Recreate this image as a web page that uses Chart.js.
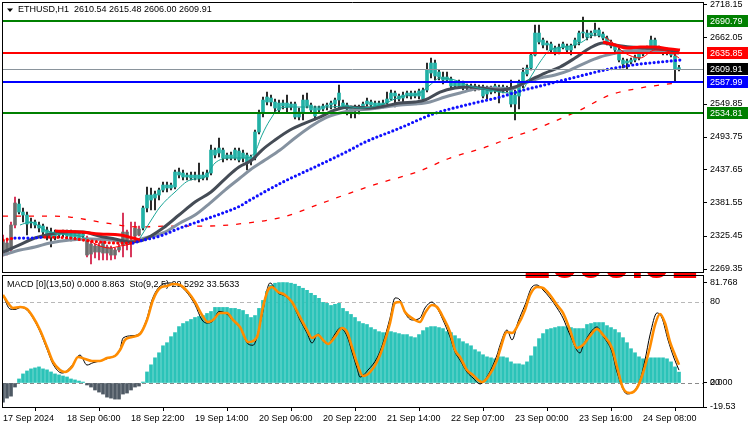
<!DOCTYPE html>
<html><head><meta charset="utf-8">
<script src="https://cdn.jsdelivr.net/npm/chart.js@4.4.1/dist/chart.umd.min.js"></script>
<style>
html,body{margin:0;padding:0;background:#fff;}
#wrap{position:relative;width:750px;height:430px;overflow:hidden;background:#fff;}
#main{position:absolute;left:0;top:0;width:750px;height:273px;}
#sub{position:absolute;left:0;top:273px;width:750px;height:157px;}
</style></head><body>
<div id="wrap"><canvas id="main" width="750" height="273"></canvas><canvas id="sub" width="750" height="157"></canvas></div>
<script>
// ---------------- DATA ----------------
const headerText = 'ETHUSD,H1  2610.54 2615.48 2606.00 2609.91';
const subLegend = 'MACD [0](13,50) 0.000 8.863  Sto(9,2,5) 29.5292 33.5633';
const bigPriceText = '2609.91';

const timeIdx = [0,16,32,48,64,80,96,112,128,144,160];
const timeLabels = ['17 Sep 2024','18 Sep 06:00','18 Sep 22:00','19 Sep 14:00','20 Sep 06:00','20 Sep 22:00','21 Sep 14:00','22 Sep 07:00','23 Sep 00:00','23 Sep 16:00','24 Sep 08:00'];

const priceTicks = [2718.15,2662.05,2549.85,2493.75,2437.65,2381.55,2325.45,2269.35];
const levelValues = [2690.79,2635.85,2609.91,2587.99,2534.81];
const macdTickValues = [81.768,0,-19.53];
const macdTickLabels = ['81.768','0.000','-19.53'];
const stochLevels = [80,20];

const openP = [2318.6,2298.2,2301.6,2344.1,2379.8,2366.2,2361.1,2347.5,2349.2,2344.1,
2342.4,2335.6,2332.2,2325.4,2332.2,2328.8,2332.2,2332.2,2323.7,2330.5,
2325.4,2322.0,2294.8,2308.4,2298.2,2313.5,2296.5,2305.0,2293.1,2301.6,
2310.1,2332.2,2311.8,2325.4,2327.1,2339.0,2373.0,2395.1,2390.0,2395.1,
2403.6,2412.1,2407.0,2408.7,2434.2,2432.5,2425.7,2429.1,2424.0,2429.1,
2424.0,2425.7,2432.5,2471.6,2466.5,2471.6,2458.0,2463.1,2458.0,2469.9,
2458.0,2463.1,2454.6,2458.0,2502.2,2534.5,2553.2,2560.0,2553.2,2551.5,
2546.4,2551.5,2549.8,2549.8,2527.7,2536.2,2556.6,2548.1,2543.0,2539.6,
2541.3,2546.4,2548.1,2549.8,2556.6,2551.5,2548.1,2543.0,2544.7,2544.7,
2543.0,2549.8,2553.2,2551.5,2551.5,2546.4,2551.5,2558.3,2568.5,2563.4,
2560.0,2565.1,2568.5,2563.4,2563.4,2558.3,2573.6,2602.5,2619.5,2604.2,
2595.7,2590.6,2592.3,2585.5,2580.4,2585.5,2580.4,2577.0,2580.4,2577.0,
2578.7,2566.8,2577.0,2571.9,2578.7,2571.9,2577.0,2573.6,2549.8,2563.4,
2583.8,2600.8,2611.0,2633.1,2670.5,2658.6,2650.1,2651.8,2645.0,2638.2,
2646.7,2648.4,2641.6,2650.1,2655.2,2670.5,2670.5,2667.1,2670.5,2675.6,
2668.8,2662.0,2655.2,2648.4,2641.6,2624.6,2619.5,2621.2,2624.6,2628.0,
2634.8,2641.6,2641.6,2658.6,2645.0,2641.6,2638.2,2639.9,2631.4,2610.54];
const highP = [2327.1,2322.0,2349.2,2391.7,2388.3,2373.0,2366.2,2356.0,2352.6,2349.2,
2345.8,2340.7,2339.0,2335.6,2333.9,2335.6,2335.6,2335.6,2333.9,2332.2,
2332.2,2325.4,2315.2,2311.8,2313.5,2318.6,2310.1,2308.4,2305.0,2311.8,
2364.5,2335.6,2349.2,2349.2,2342.4,2376.4,2408.7,2407.0,2401.9,2407.0,
2417.2,2417.2,2415.5,2437.6,2441.0,2437.6,2432.5,2434.2,2434.2,2449.5,
2434.2,2437.6,2480.1,2475.0,2492.0,2475.0,2466.5,2468.2,2475.0,2475.0,
2471.6,2466.5,2463.1,2505.6,2539.6,2561.7,2570.2,2565.1,2558.3,2556.6,
2556.6,2565.1,2553.2,2553.2,2543.0,2565.1,2568.5,2551.5,2546.4,2546.4,
2549.8,2551.5,2554.9,2560.0,2582.1,2556.6,2551.5,2546.4,2548.1,2548.1,
2553.2,2560.0,2556.6,2554.9,2554.9,2556.6,2570.2,2573.6,2571.9,2566.8,
2570.2,2571.9,2571.9,2571.9,2575.3,2577.0,2619.5,2628.0,2624.6,2607.6,
2604.2,2604.2,2595.7,2588.9,2590.6,2588.9,2583.8,2583.8,2583.8,2582.1,
2582.1,2580.4,2580.4,2583.8,2582.1,2582.1,2580.4,2590.6,2573.6,2590.6,
2611.0,2616.1,2636.5,2684.1,2684.1,2662.0,2656.9,2655.2,2648.4,2651.8,
2655.2,2651.8,2651.8,2662.0,2673.9,2697.7,2675.6,2673.9,2687.5,2679.0,
2672.2,2665.4,2658.6,2651.8,2645.0,2628.0,2626.3,2628.0,2633.1,2638.2,
2645.0,2648.4,2665.4,2662.0,2648.4,2645.0,2645.0,2643.3,2636.5,2615.48];
const lowP = [2291.4,2293.1,2298.2,2339.0,2362.8,2349.2,2327.1,2339.0,2339.0,2332.2,
2322.0,2318.6,2306.7,2318.6,2322.0,2323.7,2318.6,2316.9,2322.0,2318.6,
2322.0,2289.7,2277.8,2288.0,2284.6,2284.6,2284.6,2284.6,2286.3,2298.2,
2289.7,2301.6,2289.7,2322.0,2325.4,2335.6,2366.2,2369.6,2369.6,2386.6,
2400.2,2400.2,2403.6,2405.3,2424.0,2420.6,2420.6,2420.6,2420.6,2417.2,
2420.6,2420.6,2429.1,2458.0,2459.7,2451.2,2454.6,2454.6,2454.6,2451.2,
2451.2,2437.6,2446.1,2454.6,2498.8,2527.7,2548.1,2546.4,2534.5,2536.2,
2541.3,2536.2,2539.6,2524.3,2522.6,2522.6,2543.0,2534.5,2522.6,2534.5,
2537.9,2539.6,2541.3,2543.0,2543.0,2543.0,2531.1,2526.0,2526.0,2532.8,
2539.6,2546.4,2543.0,2541.3,2543.0,2543.0,2549.8,2556.6,2544.7,2554.9,
2553.2,2560.0,2558.3,2560.0,2558.3,2554.9,2570.2,2594.0,2590.6,2590.6,
2583.8,2587.2,2577.0,2577.0,2577.0,2573.6,2573.6,2573.6,2571.9,2573.6,
2560.0,2558.3,2566.8,2568.5,2551.5,2568.5,2570.2,2544.7,2522.6,2541.3,
2577.0,2597.4,2607.6,2631.4,2651.8,2645.0,2641.6,2636.5,2633.1,2634.8,
2643.3,2636.5,2633.1,2645.0,2650.1,2662.0,2658.6,2662.0,2665.4,2663.7,
2658.6,2650.1,2645.0,2638.2,2621.2,2611.0,2609.3,2617.8,2621.2,2624.6,
2631.4,2636.5,2638.2,2641.6,2636.5,2633.1,2633.1,2629.7,2587.2,2606.00];
const closeP = [2298.2,2313.5,2344.1,2381.5,2366.2,2361.1,2345.8,2349.2,2344.1,2339.0,
2332.2,2327.1,2323.7,2332.2,2327.1,2333.9,2325.4,2322.0,2330.5,2322.0,
2328.8,2293.1,2311.8,2298.2,2308.4,2296.5,2306.7,2293.1,2301.6,2306.7,
2332.2,2311.8,2318.6,2339.0,2337.3,2373.0,2395.1,2386.6,2396.8,2403.6,
2412.1,2407.0,2412.1,2434.2,2429.1,2425.7,2429.1,2424.0,2429.1,2424.0,
2429.1,2432.5,2471.6,2463.1,2475.0,2458.0,2463.1,2458.0,2471.6,2454.6,
2466.5,2451.2,2459.7,2502.2,2534.5,2556.6,2561.7,2553.2,2543.0,2539.6,
2551.5,2544.7,2544.7,2527.7,2536.2,2556.6,2546.4,2539.6,2529.4,2543.0,
2546.4,2548.1,2551.5,2556.6,2568.5,2546.4,2541.3,2539.6,2539.6,2539.6,
2549.8,2554.9,2548.1,2544.7,2546.4,2551.5,2558.3,2568.5,2563.4,2558.3,
2565.1,2568.5,2563.4,2568.5,2571.9,2573.6,2607.6,2619.5,2597.4,2595.7,
2590.6,2595.7,2580.4,2580.4,2587.2,2577.0,2577.0,2580.4,2575.3,2578.7,
2563.4,2577.0,2570.2,2580.4,2570.2,2578.7,2573.6,2549.8,2565.1,2587.2,
2604.2,2611.0,2633.1,2670.5,2655.2,2650.1,2653.5,2641.6,2638.2,2646.7,
2651.8,2641.6,2648.4,2658.6,2670.5,2672.2,2663.7,2670.5,2675.6,2667.1,
2662.0,2655.2,2648.4,2641.6,2624.6,2617.8,2622.9,2624.6,2629.7,2634.8,
2641.6,2643.3,2658.6,2645.0,2639.9,2636.5,2641.6,2633.1,2609.3,2609.91];

// moving averages (sampled at bar positions)
const darkIdx = [0,4,8,12,16,20,24,28,32,35,40,44,48,52,56,59,62.25,64.75,68,71.75,75.5,79.25,83,86.75,91.75,95.5,99.25,103,105.5,109.25,113,116.75,119.25,124.25,128,131.75,135.5,139.25,143,146.75,150,153,156.75,160.5,164.25,168,169];
const darkMA = [2298.2,2310.1,2322.0,2328.8,2332.2,2332.2,2325.4,2320.3,2315.2,2318.6,2339.0,2361.1,2383.2,2400.2,2425.7,2442.7,2454.6,2471.6,2488.6,2505.6,2517.5,2527.7,2539.6,2544.7,2543.0,2546.4,2551.5,2553.2,2556.6,2570.2,2577.0,2578.7,2577.0,2573.6,2578.7,2590.6,2602.5,2612.7,2628.0,2645.0,2653.5,2650.1,2646.7,2645.0,2643.3,2639.9,2638.2];
const lightIdx = [0,4.25,8,11.75,16.75,21.75,26.75,31.75,35.5,40.5,44.25,48,51.75,55.5,59.25,61.75,65.5,69.25,73,76.75,80.5,84.25,88,91.75,95.5,99.25,103,106.75,110.5,114.25,118,121.75,126.75,130.5,134.25,138,141.75,145.5,149.25,153,157,161,165,169];
const lightMA = [2293.1,2301.6,2306.7,2313.5,2318.6,2320.3,2318.6,2315.2,2322.0,2332.2,2347.5,2361.1,2381.5,2403.6,2424.0,2437.6,2454.6,2471.6,2492.0,2510.7,2526.0,2534.5,2539.6,2541.3,2544.7,2548.1,2549.8,2553.2,2561.7,2568.5,2575.3,2577.0,2575.3,2585.5,2594.0,2599.1,2607.6,2619.5,2629.7,2636.0,2641.0,2641.0,2640.0,2636.0];
const fastUpIdxA = [4.25,6.75,10.5,14.25,19.25,21.25];
const fastUpA = [2344.1,2349.2,2335.6,2328.8,2325.4,2318.6];
const fastDnIdxA = [21.25,24.25,26.75,29.25,31.75,34.25];
const fastDnA = [2318.6,2308.4,2305.0,2308.4,2311.8,2322.0];
const fastUpIdxB = [34.25,36.75,39.25,43,46.75,50.5,53,56.75,60.5,63,64.75,66.75,69.25,73,76.75,81.75,85.5,89.25,94.25,99.25,104.25,106.75,109.25,113,116.75,121.75,126.75,129.25,131.75,134.25,136.75,140.5,144.25,148,150.5];
const fastUpB = [2322.0,2349.2,2374.7,2400.2,2420.6,2425.7,2449.5,2458.0,2458.0,2468.2,2497.1,2522.6,2543.0,2544.7,2544.7,2544.7,2546.4,2543.0,2548.1,2561.7,2568.5,2582.1,2594.0,2590.6,2580.4,2573.6,2568.5,2570.2,2594.0,2621.2,2641.6,2646.7,2653.5,2667.1,2663.7];
const fastDnIdxB = [150.5,152.25,155.5,159.25,163,166.75,169];
const fastDnB = [2663.7,2655.2,2636.5,2628.0,2641.6,2638.2,2628.0];
const trendIdxA = [13,19.25,24.25,29.25,32.5,34.25];
const trendA = [2333.9,2332.2,2328.8,2327.1,2322.0,2318.6];
const trendIdxB = [150,153,156,159.25,163,166.75,169.25];
const trendB = [2655.2,2650.1,2645.0,2646.7,2646.7,2643.3,2641.6];
const dotDnIdxA = [0,3];
const dotDnA = [2318.6,2322.0];
const dotUpIdxA = [3,6.75,10.5];
const dotUpA = [2322.0,2322.0,2323.7];
const dotDnIdxB = [10.5,16.75,20,24.25,28.5,32.5];
const dotDnB = [2323.7,2322.0,2318.6,2315.2,2313.5,2313.5];
const dotUpIdxB = [32.5,34.25,39.25,44.25,49.25,54.25,59.25,61.75,70,78.5,86.75,90,99.25,107.5,116.75,124.25,129.25,134.25,139.25,144.25,149.25,154.25,159.25,164.25,169.25];
const dotUpB = [2313.5,2316.9,2325.4,2339.0,2350.9,2362.8,2376.4,2386.6,2417.2,2444.4,2471.6,2483.5,2509.0,2532.8,2549.8,2561.7,2571.9,2580.4,2588.9,2597.4,2605.9,2612.7,2617.8,2621.2,2624.6];
const slowIdx = [0,9.25,16.75,24.25,34.25,41.75,51,61,70,78.5,86.75,95,103.5,111.75,120,126.75,132.5,144.25,151.75,159.25,164.25,168.5];
const slowMA = [2359.4,2359.4,2357.7,2349.2,2340.7,2342.4,2342.4,2347.5,2357.7,2378.1,2398.5,2417.2,2434.2,2458.0,2475.0,2492.0,2505.6,2539.6,2565.1,2577.0,2582.1,2585.5];

// MACD histogram, one per bar
const macdHist = [-15.6,-12.3,-10.7,-3.3,3.3,7.4,9.8,11.5,12.3,13.1,
11.5,10.7,9.0,7.4,6.6,5.7,4.9,3.3,2.5,1.6,
0.8,-1.6,-3.3,-5.7,-7.4,-9.0,-11.5,-12.3,-13.1,-13.1,
-9.0,-8.2,-5.7,-3.3,-2.5,0.8,9.0,14.8,20.5,24.6,
30.3,32.8,37.7,41.0,45.9,48.4,50.0,51.7,53.3,54.1,
54.9,56.6,58.2,61.5,61.5,61.5,61.5,60.7,60.7,59.9,
59.0,55.8,53.3,54.9,60.7,67.2,74.6,79.5,81.2,81.7,
81.768,81.7,81.2,80.4,78.7,77.1,75.4,73.0,71.3,68.9,
65.6,64.8,63.1,64.0,64.8,60.7,58.2,55.8,53.3,50.0,
48.4,47.6,45.1,43.5,41.8,41.0,41.0,41.8,41.0,40.2,
39.4,39.4,37.7,36.9,39.4,42.6,45.1,45.9,45.9,45.1,
44.3,41.8,41.0,38.5,36.1,33.6,32.0,30.3,27.1,25.4,
23.0,21.3,20.5,19.7,21.3,21.3,20.5,17.2,15.6,15.6,
14.8,17.2,22.1,29.5,36.1,40.2,43.5,44.3,45.1,45.9,
45.9,45.9,45.1,44.3,44.3,44.3,47.6,48.4,49.2,49.2,
49.2,46.7,45.1,43.5,41.0,36.9,32.8,27.9,24.6,21.3,
19.7,19.7,20.5,20.5,20.5,20.5,19.7,17.2,13.1,8.863];

// Stochastic signal (orange) and main (black)
const sigIdx = [0,1.25,2.5,4.25,6,7.5,9.25,11,12.5,14.25,15.5,17.25,18.75,20.5,22.25,24.25,26,28,29.25,30.5,32.25,34.25,36,37.5,39.25,41,42.5,44.25,46.25,48,49.75,51.25,52.5,54.25,56,57.5,59.25,61.25,63.5,65,66.25,67.25,68.75,70.5,72.25,74.25,76,77.25,78.75,80,81.25,83,84.75,86,87.25,88.5,90,91.75,93.5,95,96.75,98,99.25,100.5,102.25,104.25,105.5,107.25,108.5,110,111.75,113,114.25,116,117.5,119.75,121.25,123.5,124.25,126,127.25,128.75,130.5,131.75,133.5,135,136.75,138.5,140,141.75,143.5,145,146.75,148.5,150,152.25,153.5,155,156.75,158.5,160,161.75,163,164.25,165.5,166.75,168,169];
const stochSignal = [85.2,79.3,75.6,76.3,74.8,68.9,59.3,46.7,35.6,29.6,28.1,31.9,39.3,37.8,36.3,36.3,38.5,40.0,44.4,51.9,54.1,56.3,66.7,81.5,90.4,91.9,93.3,92.6,87.4,80.0,70.4,65.2,66.7,71.9,71.9,66.7,61.5,50.4,54.1,76.3,88.9,91.1,87.4,85.2,80.0,68.9,59.3,53.3,55.6,51.9,48.9,54.1,60.7,57.8,46.7,34.8,25.2,28.1,35.6,46.7,64.4,79.3,80.0,72.6,68.1,65.2,71.9,77.8,76.3,68.9,57.8,44.4,39.3,29.6,25.9,20.7,24.4,37.0,44.4,57.8,57.0,63.0,74.1,85.2,91.1,90.4,85.2,77.8,71.9,59.3,45.9,48.1,54.8,60.0,55.6,45.9,31.9,16.3,12.6,16.3,27.4,46.7,63.0,71.1,64.4,50.4,40.7,33.56];
const mainIdx = [0,1.75,3,4.5,6,7.5,9.25,11,12.5,14.75,15.5,17.25,19.25,21,22.5,24.25,26,28,29.25,30,32.25,34.25,36,37.25,39,41.75,44.25,46.25,48,49.75,51,52.5,54,56,57.5,59.25,61.25,62.5,64.75,66,66.75,68.75,70.5,72.25,74.25,76,77.25,78.75,80,81.25,83,84.25,86,87.25,88.5,89.25,91.25,93.5,95,96.75,98,99.25,100.5,102.25,104.25,105.5,107.25,108.5,110,111.75,113,114.25,116,117.5,119.25,121.25,123.5,124.25,126,127.25,128.75,130.5,132.25,133.5,135,136.75,138.5,140,141.75,144.25,145,146.75,148.5,150,152.25,153.5,156,157.5,159.25,160.5,161.75,163.5,164.75,166.25,167.75,169];
const stochMain = [85.2,74.8,74.5,76,74,68,58,45,34,27.4,28,33,40.7,33.3,35,36.3,38,40.5,45,53.3,55,57,68,81.5,91,94.1,92,86,78,66.7,64.4,66,73,71,66,61,49,48,70,89,94.1,86.7,84.4,79.3,66.7,57,49.6,56.3,51,49,56.3,60.7,54.8,43,31,24.4,29.6,38.5,49.6,68.1,83,81.5,71.9,66.7,68.1,75.6,80,75.6,66.7,54.1,43,37,28.1,23.7,19.3,25.9,40.7,48,59.3,51.9,65.2,77.8,91.1,92.6,88.9,83,75.6,68.1,55.6,42.2,47.4,57,61.5,54.8,43,28.1,11.9,13.3,22.2,37,55.6,71.9,68.1,51.9,38.5,29.53];

// ---------------- STYLE ----------------
const FONT = "'Liberation Sans', Arial, sans-serif";
Chart.defaults.font.family = FONT;
Chart.defaults.font.size = 9;
Chart.defaults.color = '#000';
const TEAL = '#22b1a6', GRAYC = '#6d6d6d', WICK = '#000000', GRAYWICK = '#d0103c';
const HIST_UP = '#2bc3b8', HIST_DN = '#4e5964';
const grayRanges = [[0,3],[21,34]];
const isGray = i => grayRanges.some(r => i >= r[0] && i <= r[1]);
const levelLine = ['#008000','#ff0000','#8a949c','#0000ff','#008000'];
const levelWidth = [2,2,1,2,2];
const levelBg = ['#008000','#ff0000','#000000','#0000ff','#008000'];
const X_MIN = -0.25, X_MAX = 175;

const pts = (xs, ys) => xs.map((x, k) => ({x: x, y: ys[k]}));
function lineDs(xs, ys, color, width, order, extra) {
  return Object.assign({type: 'line', data: pts(xs, ys), borderColor: color, borderWidth: width,
    pointRadius: 0, fill: false, cubicInterpolationMode: 'monotone', order: order}, extra || {});
}
const dotted = {borderDash: [0, 4.3], borderCapStyle: 'round'};

const barIdx = openP.map((_, i) => i);

// ---------------- MAIN CHART ----------------
const mainDecor = {
  id: 'mainDecor',
  afterDatasetsDraw(chart) {
    const {ctx, chartArea: a} = chart; const y = chart.scales.y;
    ctx.save();
    ctx.beginPath(); ctx.rect(a.left, a.top, a.right - a.left, a.bottom - a.top); ctx.clip();
    levelValues.forEach((v, k) => {
      let py = Math.round(y.getPixelForValue(v));
      if (levelWidth[k] % 2) py += 0.5;
      ctx.strokeStyle = levelLine[k]; ctx.lineWidth = levelWidth[k];
      ctx.beginPath(); ctx.moveTo(a.left, py); ctx.lineTo(a.right, py); ctx.stroke();
    });
    ctx.restore();
  },
  afterDraw(chart) {
    const {ctx, chartArea: a} = chart; const y = chart.scales.y;
    ctx.save();
    ctx.strokeStyle = '#000'; ctx.lineWidth = 1;
    ctx.beginPath();
    ctx.moveTo(a.left + 0.5, a.top + 0.5); ctx.lineTo(a.left + 0.5, a.bottom + 0.5);
    ctx.moveTo(a.left, a.top + 0.5); ctx.lineTo(a.right, a.top + 0.5);
    ctx.moveTo(a.left, a.bottom + 0.5); ctx.lineTo(a.right + 1, a.bottom + 0.5);
    ctx.stroke();
    ctx.font = '9px ' + FONT; ctx.textBaseline = 'middle'; ctx.textAlign = 'left';
    levelValues.forEach((v, k) => {
      const py = Math.round(y.getPixelForValue(v));
      ctx.fillStyle = levelBg[k];
      ctx.fillRect(a.right + 4, py - 6, 41, 12);
      ctx.fillStyle = '#fff';
      ctx.fillText(v.toFixed(2), a.right + 7, py + 0.5);
    });
    // header
    ctx.fillStyle = '#000';
    ctx.beginPath(); ctx.moveTo(7, 8.5); ctx.lineTo(13, 8.5); ctx.lineTo(10, 12); ctx.closePath(); ctx.fill();
    ctx.fillText(headerText, 18, 10);
    ctx.restore();
  }
};

new Chart(document.getElementById('main'), {
  type: 'bar',
  data: {
    datasets: [
      lineDs(dotDnIdxA, dotDnA, '#ff0000', 3.2, 1, dotted),
      lineDs(dotUpIdxA, dotUpA, '#1010ff', 3.2, 1, dotted),
      lineDs(dotDnIdxB, dotDnB, '#ff0000', 3.2, 1, dotted),
      lineDs(dotUpIdxB, dotUpB, '#1010ff', 3.2, 1, dotted),
      lineDs(fastUpIdxA, fastUpA, '#1aa597', 1, 2),
      lineDs(fastDnIdxA, fastDnA, '#ff0000', 1, 2),
      lineDs(fastUpIdxB, fastUpB, '#1aa597', 1, 2),
      lineDs(fastDnIdxB, fastDnB, '#ff0000', 1, 2),
      lineDs(trendIdxA, trendA, '#ff0000', 3, 3),
      lineDs(trendIdxB, trendB, '#ff0000', 3, 3),
      lineDs(darkIdx, darkMA, '#454c56', 3, 4),
      lineDs(lightIdx, lightMA, '#8592a0', 3, 5),
      lineDs(slowIdx, slowMA, '#ff0000', 1.3, 6, {borderDash: [5, 8]}),
      {type: 'bar', data: barIdx.map(i => ({x: i, y: [openP[i], closeP[i]]})), grouped: false,
       barThickness: 3, minBarLength: 1, borderWidth: 0, order: 8,
       backgroundColor: c => isGray(c.dataIndex) ? GRAYC : TEAL},
      {type: 'bar', data: barIdx.map(i => ({x: i, y: [lowP[i], highP[i]]})), grouped: false,
       barThickness: 1, minBarLength: 1, borderWidth: 0, order: 9,
       backgroundColor: c => isGray(c.dataIndex) ? GRAYWICK : WICK}
    ]
  },
  options: {
    responsive: false, animation: false, events: [],
    layout: {padding: {left: 2, top: 2, right: 0, bottom: 1}},
    plugins: {legend: {display: false}, tooltip: {enabled: false}},
    scales: {
      x: {type: 'linear', min: X_MIN, max: X_MAX, display: false, offset: false},
      y: {position: 'right', min: 2264.25, max: 2723.25,
          afterFit(s) { s.width = 47; s.paddingTop = 0; s.paddingBottom = 0; },
          afterBuildTicks(s) { s.ticks = priceTicks.map(v => ({value: v})); },
          ticks: {autoSkip: false, padding: 3, color: '#000', font: {size: 9}, callback: v => Number(v).toFixed(2)},
          grid: {drawOnChartArea: false, drawTicks: true, tickLength: 4, tickColor: '#000'},
          border: {display: true, color: '#000'}}
    }
  },
  plugins: [mainDecor]
});

// ---------------- SUB CHART ----------------
const subDecor = {
  id: 'subDecor',
  beforeDatasetsDraw(chart) {
    const {ctx, chartArea: a} = chart; const yS = chart.scales.yS, yM = chart.scales.yM;
    ctx.save();
    // big red price text, clipped at top of panel
    ctx.beginPath(); ctx.rect(a.left, 0, a.right - a.left, 6); ctx.clip();
    ctx.fillStyle = '#ff0000'; ctx.font = 'bold 48px ' + FONT; ctx.textBaseline = 'alphabetic'; ctx.textAlign = 'left';
    ctx.fillText(bigPriceText, 524, 5);
    ctx.restore();
    ctx.save();
    ctx.beginPath(); ctx.rect(a.left, a.top, a.right - a.left, a.bottom - a.top); ctx.clip();
    ctx.lineWidth = 1; ctx.setLineDash([4, 3]);
    const hl = (py, col) => { py = Math.round(py) + 0.5; ctx.strokeStyle = col; ctx.beginPath(); ctx.moveTo(a.left, py); ctx.lineTo(a.right, py); ctx.stroke(); };
    hl(yS.getPixelForValue(stochLevels[0]), '#b8b8b8');
    hl(yS.getPixelForValue(stochLevels[1]), '#9a9a9a');
    hl(yM.getPixelForValue(0), '#8a8a8a');
    ctx.setLineDash([]);
    ctx.fillStyle = '#000'; ctx.font = '9px ' + FONT; ctx.textBaseline = 'middle'; ctx.textAlign = 'left';
    ctx.fillText(subLegend, 7, 12);
    ctx.restore();
  },
  afterDraw(chart) {
    const {ctx, chartArea: a} = chart; const yS = chart.scales.yS;
    ctx.save();
    ctx.strokeStyle = '#000'; ctx.lineWidth = 1;
    ctx.beginPath();
    ctx.moveTo(a.left + 0.5, a.top - 1); ctx.lineTo(a.left + 0.5, a.bottom);
    ctx.moveTo(a.left, a.top - 0.5); ctx.lineTo(a.right + 1, a.top - 0.5);
    ctx.stroke();
    ctx.fillStyle = '#000'; ctx.font = '9px ' + FONT; ctx.textBaseline = 'middle'; ctx.textAlign = 'left';
    stochLevels.forEach(v => ctx.fillText(String(v), a.right + 7, yS.getPixelForValue(v)));
    ctx.restore();
  }
};

new Chart(document.getElementById('sub'), {
  type: 'bar',
  data: {
    datasets: [
      lineDs(sigIdx, stochSignal, '#ff8c00', 2.6, 1, {yAxisID: 'yS'}),
      lineDs(mainIdx, stochMain, '#000000', 1, 2, {yAxisID: 'yS'}),
      {type: 'bar', yAxisID: 'yM', data: barIdx.map(i => ({x: i, y: macdHist[i]})), grouped: false,
       barThickness: 3, borderWidth: 0, order: 5,
       backgroundColor: c => (c.raw && c.raw.y >= 0) ? HIST_UP : HIST_DN}
    ]
  },
  options: {
    responsive: false, animation: false, events: [],
    layout: {padding: {left: 2, top: 3, right: 0, bottom: 0}},
    plugins: {legend: {display: false}, tooltip: {enabled: false}},
    scales: {
      x: {type: 'linear', position: 'bottom', min: X_MIN, max: X_MAX, offset: false,
          afterFit(s) { s.height = 23; s.paddingLeft = 0; s.paddingRight = 0; },
          afterBuildTicks(s) { s.ticks = timeIdx.map(v => ({value: v})); },
          ticks: {autoSkip: false, maxRotation: 0, minRotation: 0, align: 'start', padding: 2, color: '#000', font: {size: 9},
                  callback: v => timeLabels[timeIdx.indexOf(v)]},
          grid: {drawOnChartArea: false, drawTicks: true, tickLength: 4, tickColor: '#000'},
          border: {display: true, color: '#000'}},
      yM: {position: 'right', min: -19.53, max: 87.07,
          afterFit(s) { s.width = 47; s.paddingTop = 0; s.paddingBottom = 0; },
          afterBuildTicks(s) { s.ticks = macdTickValues.map(v => ({value: v})); },
          ticks: {autoSkip: false, padding: 3, color: '#000', font: {size: 9},
                  callback: v => macdTickLabels[macdTickValues.indexOf(v)]},
          grid: {drawOnChartArea: false, drawTicks: true, tickLength: 4, tickColor: '#000'},
          border: {display: true, color: '#000'}},
      yS: {display: false, min: 2.22, max: 99.26}
    }
  },
  plugins: [subDecor]
});
</script></body></html>
